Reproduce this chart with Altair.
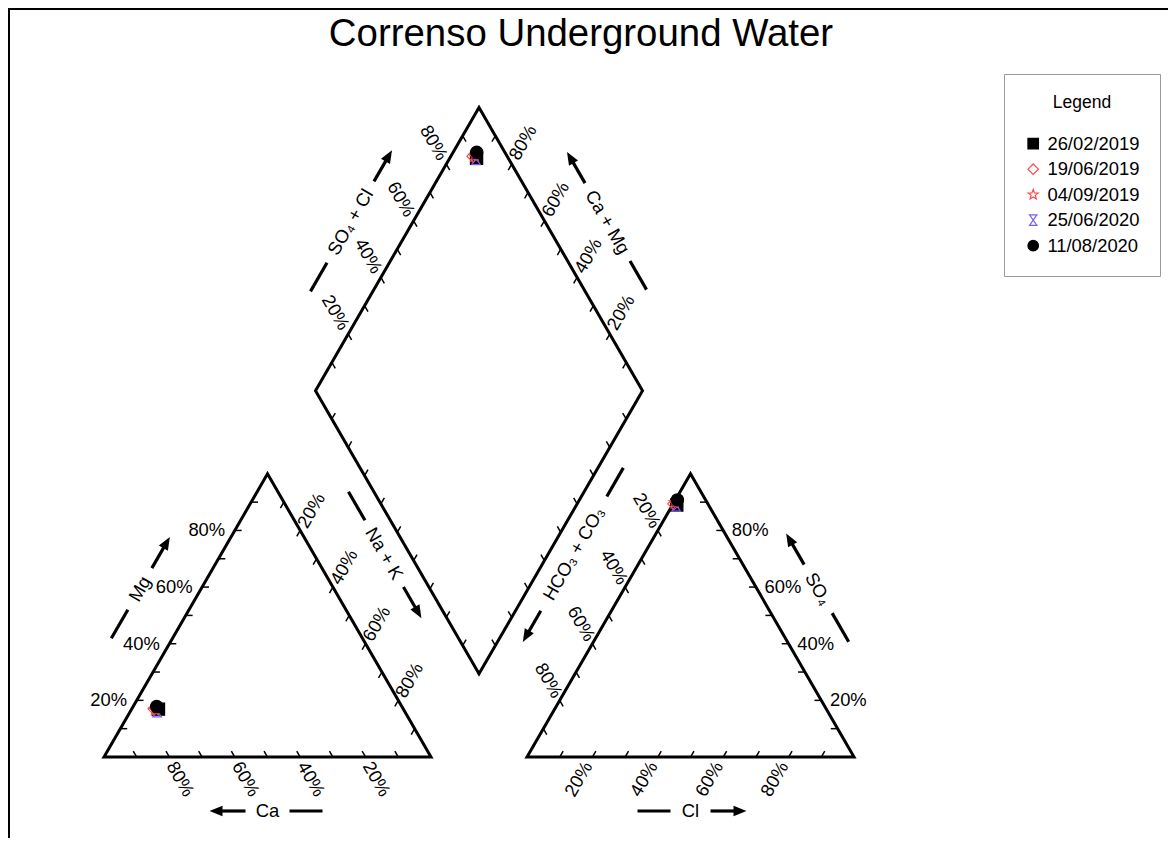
import math
import altair as alt
import pandas as pd

# ---------------- data (meq %) ----------------
TITLE = "Correnso Underground Water"
dates = ["26/02/2019", "19/06/2019", "04/09/2019", "25/06/2020", "11/08/2020"]
ca = [74.9, 76.2, 76.1, 75.6, 75.0]
mg = [16.9, 17.0, 16.6, 16.3, 17.8]
nak = [8.2, 6.8, 7.3, 8.1, 7.2]
so4 = [89.0, 89.4, 89.8, 89.0, 90.8]
cl = [1.3, 0.2, 0.3, 1.1, 0.6]
hco3 = [9.7, 10.4, 9.9, 9.9, 8.6]

tick_values = [10, 20, 30, 40, 50, 60, 70, 80, 90]
label_values = [20, 40, 60, 80]

# ---------------- styles ----------------
FONT = "Liberation Sans"
FS = 18.4


def star_path():
    pts = []
    for k in range(10):
        r = 1.0 if k % 2 == 0 else 0.42
        a = math.radians(-90 + 36 * k)
        pts.append((r * math.cos(a), r * math.sin(a)))
    return "M" + " L".join(f"{x:.3f},{y:.3f}" for x, y in pts) + " Z"


HOURGLASS = "M-0.7,-1 L0.7,-1 L-0.7,1 L0.7,1 Z"
HEAD = "M1,0 L-1,-0.8 L-1,0.8 Z"
shapes = ["square", "diamond", star_path(), HOURGLASS, "circle"]
fills = ["black", "transparent", "transparent", "transparent", "black"]
strokes = ["black", "#ff4a4a", "#ff4a4a", "#7a5cf0", "black"]

# ---------------- layout ----------------
W, HGT = 1160, 830
PX = 3.27                      # pixels per percent unit
S = 100.0
R3 = math.sqrt(3) / 2
G = 29.36                      # gap between triangles (units)
X_MIN = -96.0 / PX
X_MAX = X_MIN + W / PX
Y_MAX = 749.0 / PX
Y_MIN = Y_MAX - HGT / PX
TL = 2.1                       # tick length (units)


def sv(dx, dy):
    """screen pixel vector -> data vector"""
    return (dx / PX, -dy / PX)


def add(p, v):
    return (p[0] + v[0], p[1] + v[1])


def mid(a, b):
    return ((a[0] + b[0]) / 2, (a[1] + b[1]) / 2)


A0, A1, A2 = (0.0, 0.0), (S, 0.0), (S / 2, S * R3)
C0, C1, C2 = (S + G, 0.0), (2 * S + G, 0.0), (1.5 * S + G, S * R3)
B = (S + G / 2, G * R3)
Lv = (B[0] - S / 2, B[1] + S * R3)
Rv = (B[0] + S / 2, B[1] + S * R3)
Tv = (B[0], B[1] + 2 * S * R3)

xs = alt.Scale(domain=[X_MIN, X_MAX], nice=False, zero=False)
ys = alt.Scale(domain=[Y_MIN, Y_MAX], nice=False, zero=False)


def X(f):
    return alt.X(f, type="quantitative", scale=xs, axis=None)


def Y(f):
    return alt.Y(f, type="quantitative", scale=ys, axis=None)


# outlines
poly_rows = []
polys = {
    "cat": [A0, A1, A2],
    "an": [C0, C1, C2],
    "dia": [B, Rv, Tv, Lv],
}
for name, vs in polys.items():
    start = mid(vs[0], vs[1])
    seq = [start] + vs[1:] + [vs[0], start]
    for i, p in enumerate(seq):
        poly_rows.append(dict(shape=name, i=i, x=p[0], y=p[1]))
poly_df = pd.DataFrame(poly_rows)

# ticks and tick labels
edges = [
    (A1, A0, (-0.5, R3), True, 60, (11, 22)),       # Ca
    (A0, A2, (1.0, 0.0), True, 0, (-28, 0)),        # Mg
    (A2, A1, (-0.5, -R3), True, 300, (11, -20)),    # Na + K
    (C0, C1, (0.5, R3), True, 300, (-14, 22)),      # Cl
    (C1, C2, (-1.0, 0.0), True, 0, (27, 0)),        # SO4
    (C2, C0, (0.5, -R3), True, 60, (-11, -20)),     # HCO3 + CO3
    (Lv, Tv, (0.5, -R3), True, 60, (-12.5, -21.5)), # SO4 + Cl
    (Rv, Tv, (-0.5, -R3), True, 300, (11, -21.5)),  # Ca + Mg
    (B, Lv, (0.5, R3), False, 0, (0, 0)),
    (B, Rv, (-0.5, R3), False, 0, (0, 0)),
]
tick_rows, lab_rows = [], []
for p0, p1, dv, lab, ang, off in edges:
    for v in tick_values:
        t = v / 100.0
        px_ = p0[0] + t * (p1[0] - p0[0])
        py_ = p0[1] + t * (p1[1] - p0[1])
        tick_rows.append(dict(x=px_, y=py_, x2=px_ + dv[0] * TL, y2=py_ + dv[1] * TL))
        if lab and v in label_values:
            o = sv(*off)
            lab_rows.append(dict(x=px_ + o[0], y=py_ + o[1], text=f"{v}%", angle=ang))
tick_df = pd.DataFrame(tick_rows)
lab_df = pd.DataFrame(lab_rows)

# axis titles with dash + arrow
c866, c5 = 0.866, 0.5
titles = [
    ("Ca", add(mid(A0, A1), sv(0, 54)), (-1.0, 0.0), 0, 22),
    ("Cl", add(mid(C0, C1), sv(0, 54)), (1.0, 0.0), 0, 20),
    ("Mg", add(mid(A0, A2), sv(-c866 * 53, -c5 * 53)), (c5, -c866), 300, 24),
    ("SO\u2084", add(mid(C1, C2), sv(c866 * 53, -c5 * 53)), (-c5, -c866), 60, 28),
    ("SO\u2084 + Cl", add(mid(Lv, Tv), sv(-c866 * 54, -c5 * 54)), (c5, -c866), 300, 47),
    ("Ca + Mg", add(mid(Rv, Tv), sv(c866 * 54, -c5 * 54)), (-c5, -c866), 60, 45),
    ("Na + K", add(mid(B, Lv), sv(-c866 * 22 + c5 * 12, c5 * 22 + c866 * 12)), (c5, c866), 60, 38.5),
    ("HCO\u2083 + CO\u2083", add(mid(B, Rv), sv(c866 * 22 - c5 * 12, c5 * 22 + c866 * 12)), (-c5, c866), 300, 66),
]
ttl_rows, seg_rows, head_rows = [], [], []
for txt, c, d, ang, d1 in titles:
    ttl_rows.append(dict(x=c[0], y=c[1], text=txt, angle=ang))
    dd = sv(*d)  # data-space unit (per px)

    def at(k, c=c, dd=dd):
        return (c[0] + dd[0] * k, c[1] + dd[1] * k)

    a, b = at(-d1), at(-(d1 + 33))
    seg_rows.append(dict(x=a[0], y=a[1], x2=b[0], y2=b[1]))
    a, b = at(d1), at(d1 + 36 - 8)
    seg_rows.append(dict(x=a[0], y=a[1], x2=b[0], y2=b[1]))
    h = at(d1 + 36 - 6.5)
    head_rows.append(dict(x=h[0], y=h[1], angle=math.degrees(math.atan2(d[1], d[0])) % 360))
ttl_df = pd.DataFrame(ttl_rows)
seg_df = pd.DataFrame(seg_rows)
head_df = pd.DataFrame(head_rows)

# sample points
pt_rows = []
for i, d in enumerate(dates):
    pt_rows.append(dict(x=nak[i] + mg[i] / 2, y=mg[i] * R3, Date=d))
for i, d in enumerate(dates):
    pt_rows.append(dict(x=S + G + cl[i] + so4[i] / 2, y=so4[i] * R3, Date=d))
for i, d in enumerate(dates):
    s_ = so4[i] + cl[i]
    c_ = ca[i] + mg[i]
    pt_rows.append(dict(x=B[0] + (s_ - c_) / 2, y=B[1] + (s_ + c_) * R3, Date=d))
pt_df = pd.DataFrame(pt_rows)

# ---------------- layers ----------------
frame = alt.Chart(pd.DataFrame({"k": ["top", "left"], "x": [0, 1], "x2": [W, 1], "y": [1, 0], "y2": [1, HGT]})).mark_rule(
    color="black", strokeWidth=2
).encode(x=alt.X("x:Q", scale=None, axis=None), x2="x2:Q", y=alt.Y("y:Q", scale=None, axis=None), y2="y2:Q")

outline = alt.Chart(poly_df).mark_line(color="black", strokeWidth=3, strokeJoin="miter", strokeCap="butt").encode(
    x=X("x"), y=Y("y"), detail="shape:N", order="i:Q"
)

ticks = alt.Chart(tick_df).mark_rule(color="black", strokeWidth=1.5).encode(
    x=X("x"), y=Y("y"), x2="x2:Q", y2="y2:Q"
)

tlabels = alt.Chart(lab_df).mark_text(font=FONT, fontSize=FS, align="center", baseline="middle", color="black").encode(
    x=X("x"), y=Y("y"), text="text:N", angle=alt.Angle("angle:Q", scale=None)
)

atitles = alt.Chart(ttl_df).mark_text(font=FONT, fontSize=FS, align="center", baseline="middle", color="black").encode(
    x=X("x"), y=Y("y"), text="text:N", angle=alt.Angle("angle:Q", scale=None)
)

segs = alt.Chart(seg_df).mark_rule(color="black", strokeWidth=3.2).encode(
    x=X("x"), y=Y("y"), x2="x2:Q", y2="y2:Q"
)

heads = alt.Chart(head_df).mark_point(shape=HEAD, filled=True, color="black", size=169, opacity=1, strokeWidth=0).encode(
    x=X("x"), y=Y("y"), angle=alt.Angle("angle:Q", scale=None)
)

leg = alt.Legend(
    orient="none", legendX=996, legendY=66, direction="vertical",
    titleAnchor="middle", titleFont=FONT, titleFontSize=17.5, titleFontWeight="normal", titleColor="black",
    labelFont=FONT, labelFontSize=FS, labelColor="black", labelOffset=5,
    labelExpr="datum.label + '  '",
    symbolSize=110, symbolStrokeWidth=1.2, symbolOffset=0,
    padding=20, rowPadding=6.5, titlePadding=23,
    strokeColor="#9a9a9a", fillColor="white",
)

points = alt.Chart(pt_df).mark_point(size=150, opacity=1, strokeWidth=1.2).encode(
    x=X("x"), y=Y("y"),
    shape=alt.Shape("Date:N", scale=alt.Scale(domain=dates, range=shapes), title="Legend", legend=leg),
    fill=alt.Fill("Date:N", scale=alt.Scale(domain=dates, range=fills), title="Legend", legend=leg),
    stroke=alt.Stroke("Date:N", scale=alt.Scale(domain=dates, range=strokes), title="Legend", legend=leg),
)

title = alt.Chart(pd.DataFrame({"t": [TITLE]})).mark_text(
    font=FONT, fontSize=38.4, align="center", baseline="alphabetic", color="black"
).encode(text="t:N", x=alt.value(573), y=alt.value(38))

chart = alt.layer(frame, outline, ticks, tlabels, atitles, segs, heads, points, title).properties(
    width=W, height=HGT, padding=0, autosize=alt.AutoSizeParams(type="none")
).configure_view(stroke="transparent")

chart.save("out.html", embed_options={"renderer": "svg", "actions": False})
